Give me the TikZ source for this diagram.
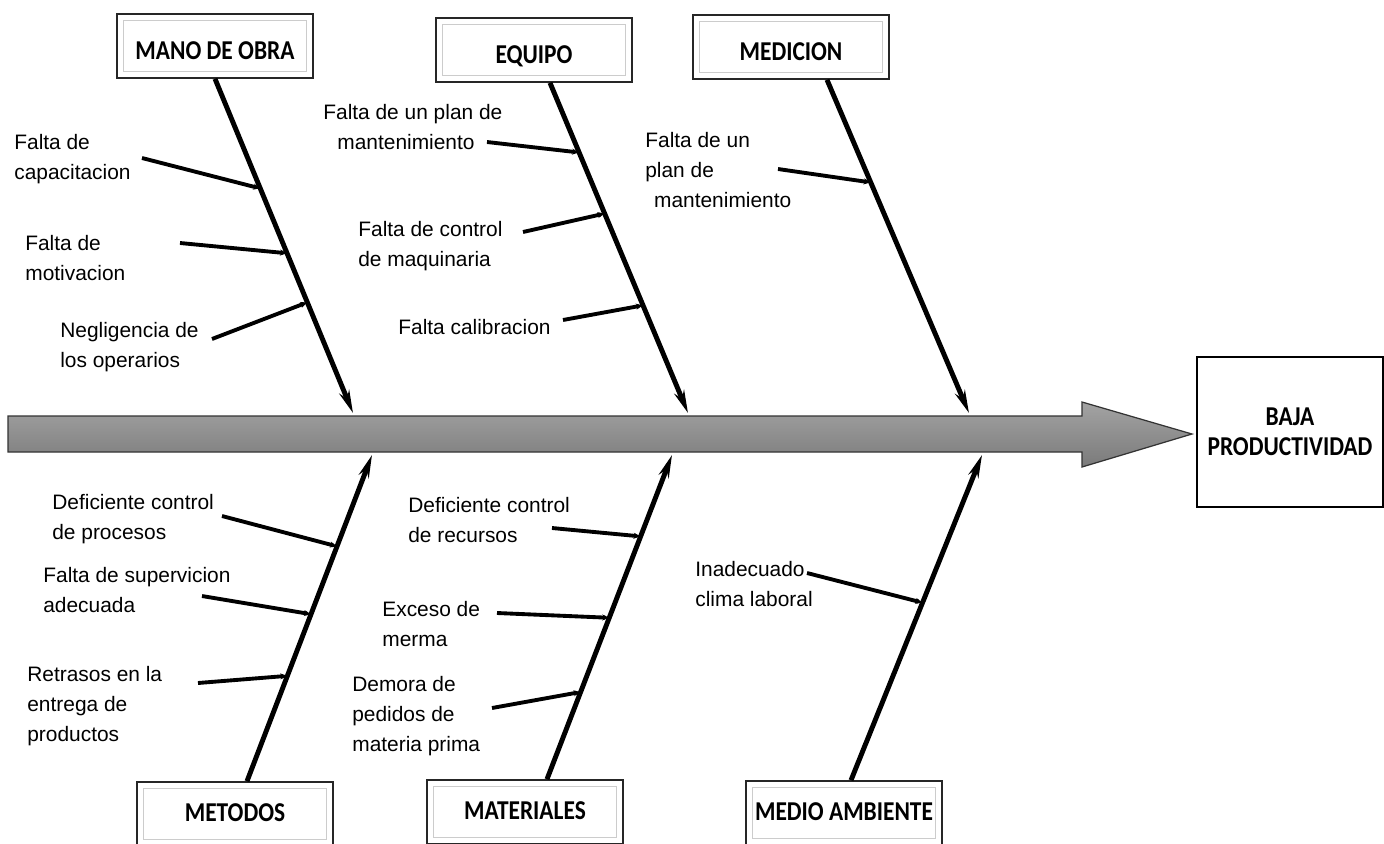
\documentclass[tikz,border=0pt]{standalone}
\usepackage{fontspec}
\setmainfont{Liberation Sans}
\newfontfamily\boxfont[FakeStretch=0.86]{Carlito}
\usetikzlibrary{arrows.meta,calc}
\tikzset{
  catbox/.style={draw=black!85,line width=0.9pt,fill=white,
    minimum width=3.92cm,minimum height=1.28cm,text depth=2pt,
    font=\boxfont\bfseries\fontsize{15.5}{17}\selectfont,
    path picture={\draw[black!20,line width=0.6pt]
      ([shift={(3.5pt,-3.5pt)}]path picture bounding box.north west) rectangle
      ([shift={(-3.5pt,3.5pt)}]path picture bounding box.south east);}},
  topbox/.style={catbox,text height=15pt,text depth=0pt},
  bone/.style={line width=2.8pt,-{Stealth[length=13pt,width=6pt]}},
  sub/.style={line width=2.2pt,-{Stealth[length=4pt,width=3.4pt]}},
  cause/.style={anchor=north west,align=left,inner sep=0pt,
    font=\fontsize{11.9}{17}\selectfont},
  spine/.style={draw=black!80,line width=0.7pt,top color=black!36,bottom color=black!52}
}
\begin{document}
\begin{tikzpicture}[x=0.02cm,y=-0.02cm]
\useasboundingbox (0,0) rectangle (1384,843);
\clip (0,0) rectangle (1384,843);
% espina central
\draw[spine] (8,416) -- (1082,416) -- (1082,402) -- (1192,434) -- (1082,467)
  -- (1082,452) -- (8,452) -- cycle;
\node[draw,line width=0.9pt,minimum width=3.72cm,minimum height=3cm,align=center,
  font=\boxfont\bfseries\fontsize{15.5}{17}\selectfont] (efecto) at (1290,432)
  {BAJA\\PRODUCTIVIDAD};
% categorias
\node[topbox] (mano) at (215,46) {MANO DE OBRA};
\node[topbox] (equipo) at (534,50) {EQUIPO};
\node[topbox] (medicion) at (791,47) {MEDICION};
\node[catbox] (metodos) at (235,814) {METODOS};
\node[catbox] (materiales) at (525,812) {MATERIALES};
\node[catbox] (medio) at (844,813) {MEDIO AMBIENTE};
% huesos
\coordinate (b1s) at (mano.south);
\coordinate (b1e) at (353,413);
\coordinate (b2s) at ($(equipo.south)+(16,0)$);
\coordinate (b2e) at (688,413);
\coordinate (b3s) at ($(medicion.south)+(36,0)$);
\coordinate (b3e) at (969,413);
\coordinate (b4s) at ($(metodos.north)+(12,0)$);
\coordinate (b4e) at (372,455);
\coordinate (b5s) at ($(materiales.north)+(22,0)$);
\coordinate (b5e) at (672,455);
\coordinate (b6s) at ($(medio.north)+(7,0)$);
\coordinate (b6e) at (982,455);
\foreach \b in {1,...,6}
  \draw[bone] (b\b s) -- (b\b e);
% causas
\node[cause] (capac) at (14,134) {Falta de\\capacitacion};
\node[cause] (motiv) at (25,235) {Falta de\\motivacion};
\node[cause] (negli) at (60,322) {Negligencia de\\los operarios};
\node[cause] (plan) at (323,104) {Falta de un plan de\\\hspace*{8pt}mantenimiento};
\node[cause] (maqui) at (358,221) {Falta de control\\de maquinaria};
\node[cause] (calib) at (398,319) {Falta calibracion};
\node[cause] (planm) at (645,132) {Falta de un\\plan de\\\hspace*{5pt}mantenimiento};
\node[cause] (proce) at (52,494) {Deficiente control\\de procesos};
\node[cause] (super) at (43,567) {Falta de supervicion\\adecuada};
\node[cause] (retra) at (27,666) {Retrasos en la\\entrega de\\productos};
\node[cause] (recur) at (408,497) {Deficiente control\\de recursos};
\node[cause] (merma) at (382,601) {Exceso de\\merma};
\node[cause] (demor) at (352,676) {Demora de\\pedidos de\\materia prima};
\node[cause] (clima) at (695,561) {Inadecuado\\clima laboral};
\foreach \i/\sx/\sy/\b/\t in {1/142/158/1/0.328, 2/180/243/1/0.522, 3/212/339/1/0.669,
    4/487/142/2/0.211, 5/523/232/2/0.396, 6/563/320/2/0.674, 7/778/169/3/0.308,
    8/222/516/4/0.72, 9/202/596/4/0.512, 10/198/683/4/0.323,
    11/552/528/5/0.749, 12/497/613/5/0.498, 13/492/708/5/0.269, 14/807/573/6/0.546}
  \draw[sub] (\sx,\sy) coordinate (s\i) -- ($(b\b s)!\t!(b\b e)$);
\end{tikzpicture}
\end{document}
